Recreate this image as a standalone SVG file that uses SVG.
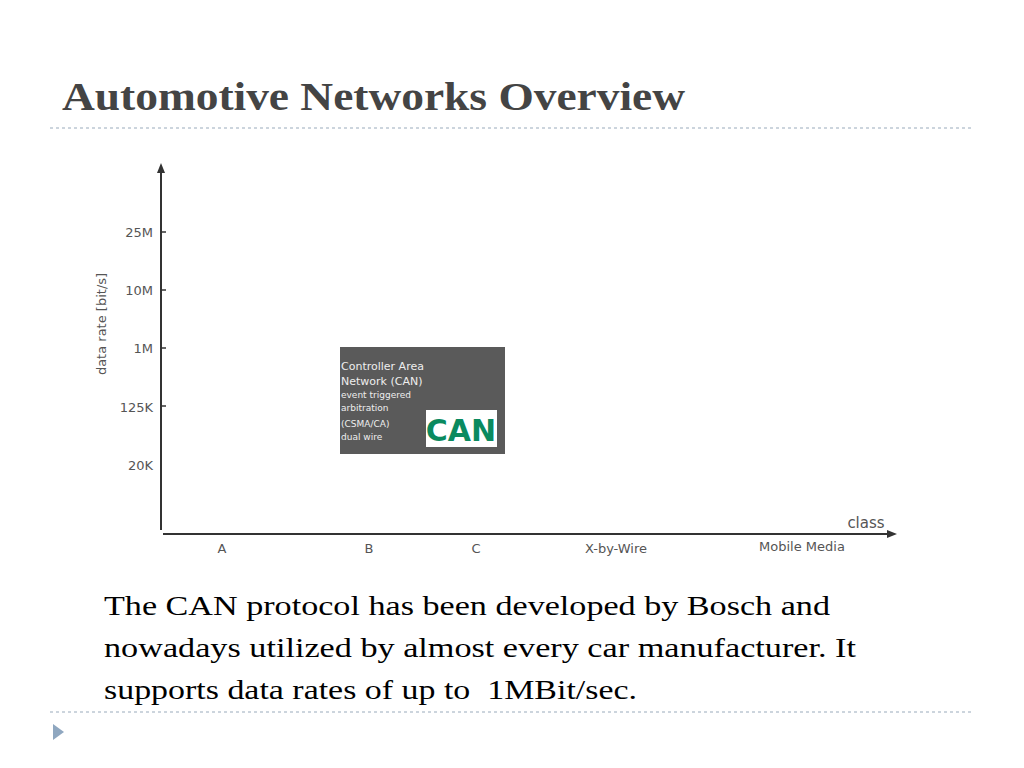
<svg xmlns="http://www.w3.org/2000/svg" width="1024" height="768" viewBox="0 0 1024 768">
<style>
.ax{font-family:"DejaVu Sans",sans-serif;font-size:13px;fill:#555}
.sm{font-family:"DejaVu Sans",sans-serif;fill:#eee}
.body{font-family:"Liberation Serif",serif;font-size:28px;fill:#000}
</style>
<defs><marker id="ar" markerWidth="10" markerHeight="10" refX="5" refY="5" orient="auto" markerUnits="userSpaceOnUse"><path d="M0,1 L10,5 L0,9 Z" fill="#333"/></marker></defs>
<rect width="1024" height="768" fill="#fff"/>
<text x="62" y="110" font-family="Liberation Serif,serif" font-weight="bold" font-size="40" fill="#444" textLength="623" lengthAdjust="spacingAndGlyphs">Automotive Networks Overview</text>
<line x1="50" y1="128" x2="974" y2="128" stroke="#9ab" stroke-dasharray="3,3"/>
<line x1="50" y1="712" x2="974" y2="712" stroke="#9ab" stroke-dasharray="3,3"/>
<path d="M53,724 L64,732 L53,740 Z" fill="#8fa7c0"/>
<g id="connectors" stroke="#333" stroke-width="2" fill="none">
<line x1="161" y1="530" x2="161" y2="168" marker-end="url(#ar)"/>
<line x1="163" y1="534" x2="892" y2="534" marker-end="url(#ar)"/>
<g stroke-width="1.5"><line x1="161" y1="232" x2="166" y2="232"/><line x1="161" y1="290" x2="166" y2="290"/><line x1="161" y1="348" x2="166" y2="348"/><line x1="161" y1="406" x2="166" y2="406"/></g>
</g>
<g id="labels" class="ax">
<text x="153" y="237" text-anchor="end">25M</text>
<text x="153" y="295" text-anchor="end">10M</text>
<text x="153" y="353" text-anchor="end">1M</text>
<text x="153" y="412" text-anchor="end">125K</text>
<text x="153" y="470" text-anchor="end">20K</text>
<text transform="translate(106,324) rotate(-90)" text-anchor="middle">data rate [bit/s]</text>
<text x="222" y="553" text-anchor="middle">A</text>
<text x="369" y="553" text-anchor="middle">B</text>
<text x="476" y="553" text-anchor="middle">C</text>
<text x="616" y="553" text-anchor="middle">X-by-Wire</text>
<text x="802" y="551" text-anchor="middle">Mobile Media</text>
<text x="866" y="528" text-anchor="middle" font-size="15">class</text>
</g>
<g id="can">
<rect x="340" y="347" width="165" height="107" fill="#5a5a5a"/>
<text class="sm" x="341" y="370" font-size="11">Controller Area</text>
<text class="sm" x="341" y="385" font-size="11">Network (CAN)</text>
<text class="sm" x="341" y="398" font-size="9">event triggered</text>
<text class="sm" x="341" y="411" font-size="9">arbitration</text>
<text class="sm" x="341" y="427" font-size="9">(CSMA/CA)</text>
<text class="sm" x="341" y="440" font-size="9">dual wire</text>
<rect x="426" y="410" width="71" height="37" fill="#fff"/>
<text x="461" y="441" text-anchor="middle" font-family="DejaVu Sans,sans-serif" font-weight="bold" font-size="30" fill="#0a8a5f">CAN</text>
</g>
<text class="body" x="104" y="615" textLength="726" lengthAdjust="spacingAndGlyphs">The CAN protocol has been developed by Bosch and</text>
<text class="body" x="104" y="657" textLength="752" lengthAdjust="spacingAndGlyphs">nowadays utilized by almost every car manufacturer. It</text>
<text class="body" x="104" y="699" textLength="533" lengthAdjust="spacingAndGlyphs" xml:space="preserve">supports data rates of up to  1MBit/sec.</text>
</svg>
